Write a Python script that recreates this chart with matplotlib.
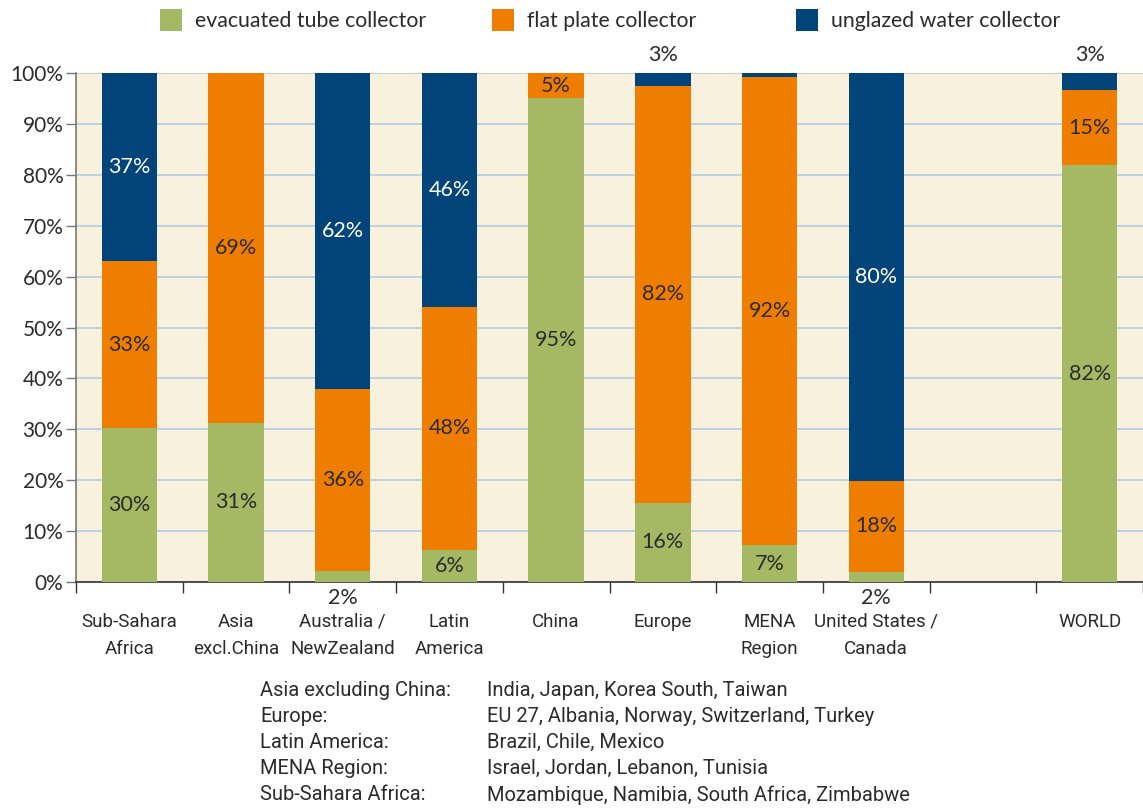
import matplotlib
matplotlib.use("Agg")
import matplotlib.pyplot as plt
from matplotlib.patches import Rectangle
import numpy as np

categories = ["Sub-Sahara\nAfrica", "Asia\nexcl.China", "Australia /\nNewZealand", "Latin\nAmerica",
              "China", "Europe", "MENA\nRegion", "United States /\nCanada", "", "WORLD"]
evacuated = [30.3, 31.3, 2.1, 6.3, 95.0, 15.6, 7.2, 2.0, 0, 81.9]
flat_plate = [32.7, 68.7, 35.8, 47.8, 5.0, 81.8, 92.1, 17.9, 0, 14.7]
unglazed = [37.0, 0.0, 62.1, 45.9, 0.0, 2.6, 0.7, 80.1, 0, 3.4]
series_names = ["evacuated tube collector", "flat plate collector", "unglazed water collector"]
yticks = [0, 10, 20, 30, 40, 50, 60, 70, 80, 90, 100]

footnote_keys = ["Asia excluding China:", "Europe:", "Latin America:", "MENA Region:", "Sub-Sahara Africa:"]
footnote_vals = ["India, Japan, Korea South, Taiwan", "EU 27, Albania, Norway, Switzerland, Turkey",
                 "Brazil, Chile, Mexico", "Israel, Jordan, Lebanon, Tunisia",
                 "Mozambique, Namibia, South Africa, Zimbabwe"]

GREEN = "#a5b965"
ORANGE = "#ee7d00"
BLUE = "#004479"
BG = "#f7f1de"
TXT = "#2b2b2b"
NARROW = ["Roboto", "DejaVu Sans"]
plt.rcParams['font.family'] = ["Lato", "DejaVu Sans"]

W, H = 1143, 808
fig = plt.figure(figsize=(W / 100, H / 100), dpi=100)
ax = fig.add_axes([76 / W, 1 - 582 / H, 1 - 76 / W, (582 - 73) / H])
ax.set_facecolor(BG)

x = np.arange(len(categories))
bw = 0.52
ev = np.array(evacuated); fp = np.array(flat_plate); ug = np.array(unglazed)
ax.bar(x, ev, bw, color=GREEN, zorder=3)
ax.bar(x, fp, bw, bottom=ev, color=ORANGE, zorder=3)
ax.bar(x, ug, bw, bottom=ev + fp, color=BLUE, zorder=3)

ax.set_xlim(-0.5, len(categories) - 0.5)
ax.set_ylim(0, 100)
ax.set_yticks(yticks)
ax.set_yticklabels([f"{t}%" for t in yticks], fontsize=15, color=TXT)
ax.yaxis.grid(True, color="#b3cbe0", linewidth=1.2, zorder=0)
ax.set_axisbelow(True)
ax.tick_params(axis='y', length=7, width=1, color="#777777", pad=2)

ax.set_xticks(x)
ax.set_xticklabels(categories, fontsize=13.5, color=TXT, family=NARROW, linespacing=1.65, va='top')
ax.tick_params(axis='x', length=0, pad=22)
ax.set_xticks(np.arange(-0.5, len(categories) - 0.4, 1.0), minor=True)
ax.tick_params(axis='x', which='minor', length=8, width=1, color="#333333")

for s in ["top", "right"]:
    ax.spines[s].set_visible(False)
ax.spines["left"].set_color("#777777")
ax.spines["left"].set_linewidth(1.2)
ax.spines["bottom"].set_color("#333333")
ax.spines["bottom"].set_linewidth(1.2)

lab_fs = 15.5
kw = dict(ha='center', fontsize=lab_fs)
for i in range(len(categories)):
    e, f, u = ev[i], fp[i], ug[i]
    if e + f + u == 0:
        continue
    if e >= 5:
        ax.text(x[i], e / 2, f"{round(e)}%", va='center', color=TXT, zorder=4, **kw)
    elif e > 0:
        ax.text(x[i], -1.2, f"{round(e)}%", va='top', color=TXT, clip_on=False, **kw)
    if f >= 5:
        ax.text(x[i], e + f / 2, f"{round(f)}%", va='center', color=TXT, zorder=4, **kw)
    if u >= 5:
        ax.text(x[i], e + f + u / 2, f"{round(u)}%", va='center', color="white", zorder=4, **kw)
    elif u >= 1:
        ax.text(x[i], 101.5, f"{round(u)}%", va='bottom', color=TXT, clip_on=False, **kw)

# legend
leg_sq = [(160, GREEN), (492, ORANGE), (796, BLUE)]
for (lx, col), name in zip(leg_sq, series_names):
    fig.patches.append(Rectangle((lx / W, 1 - 31 / H), 22 / W, 22 / H, transform=fig.transFigure,
                                 facecolor=col, edgecolor='none'))
    fig.text((lx + 35) / W, 1 - 21 / H, name, fontsize=15.3, color=TXT, va='center', ha='left')

# footnotes
for j, (k, v) in enumerate(zip(footnote_keys, footnote_vals)):
    yy = 1 - (690 + j * 26.2) / H
    fig.text(260 / W, yy, k, fontsize=14.5, color=TXT, va='center', ha='left', family=NARROW)
    fig.text(487 / W, yy, v, fontsize=14.5, color=TXT, va='center', ha='left', family=NARROW)

fig.savefig("out.png", dpi=100, facecolor="white")
